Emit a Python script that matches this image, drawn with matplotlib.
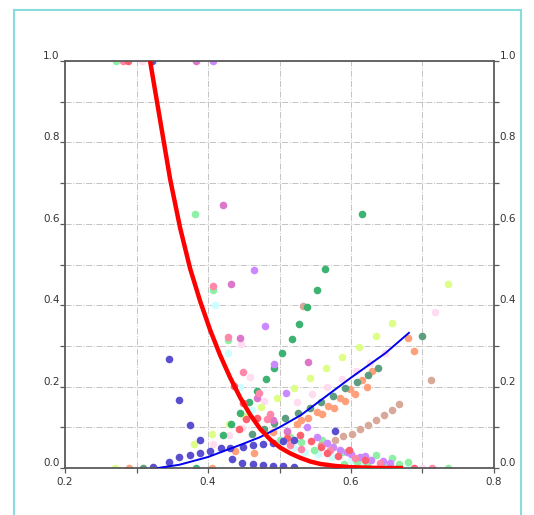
import numpy as np
import matplotlib
matplotlib.use('Agg')
from matplotlib import pyplot as plt
from matplotlib.patches import Rectangle

# curves
red_x = [0.319, 0.333, 0.347, 0.361, 0.375, 0.389, 0.403, 0.417, 0.431, 0.445, 0.459,
         0.473, 0.487, 0.501, 0.515, 0.529, 0.543, 0.557, 0.578, 0.599, 0.64, 0.673]
red_y = [1.0, 0.855, 0.71, 0.59, 0.49, 0.41, 0.339, 0.277, 0.222, 0.173, 0.131,
         0.096, 0.07, 0.05, 0.036, 0.025, 0.016, 0.01, 0.005, 0.002, 0.0, 0.0]
blue_x = [0.33, 0.36, 0.40, 0.45, 0.473, 0.50, 0.53, 0.571, 0.60, 0.648, 0.681]
blue_y = [0.0, 0.008, 0.027, 0.06, 0.076, 0.10, 0.13, 0.184, 0.222, 0.282, 0.332]

# point series, one per colour
darkblue_x = [0.345, 0.36, 0.375, 0.389, 0.322, 0.323, 0.345, 0.36, 0.375, 0.389, 0.403,
              0.418, 0.431, 0.449, 0.463, 0.477, 0.491, 0.505, 0.52, 0.434, 0.448,
              0.463, 0.477, 0.491, 0.505, 0.52, 0.578, 0.579]
darkblue_y = [0.267, 0.168, 0.106, 0.069, 1.0, 0.003, 0.015, 0.027, 0.033, 0.036, 0.042,
              0.048, 0.049, 0.052, 0.056, 0.058, 0.061, 0.066, 0.07, 0.022, 0.013,
              0.01, 0.007, 0.005, 0.004, 0.003, 0.091, 0.0]
green_x = [0.383, 0.421, 0.432, 0.445, 0.457, 0.469, 0.481, 0.492, 0.504, 0.517, 0.527,
           0.538, 0.552, 0.564, 0.615]
green_y = [0.0, 0.081, 0.108, 0.135, 0.162, 0.189, 0.219, 0.246, 0.283, 0.317, 0.354,
           0.396, 0.437, 0.489, 0.624]
teal_x = [0.309, 0.461, 0.478, 0.492, 0.508, 0.526, 0.543, 0.558, 0.575, 0.592, 0.608,
          0.624, 0.638, 0.699]
teal_y = [0.0, 0.083, 0.095, 0.11, 0.123, 0.135, 0.147, 0.162, 0.178, 0.197, 0.211,
          0.228, 0.246, 0.324]
salmon_x = [0.289, 0.406, 0.438, 0.464, 0.491, 0.51, 0.524, 0.53, 0.54, 0.552, 0.559,
            0.568, 0.576, 0.585, 0.592, 0.599, 0.606, 0.615, 0.622, 0.629, 0.68, 0.688]
salmon_y = [0.0, 0.0, 0.042, 0.038, 0.088, 0.088, 0.108, 0.118, 0.123, 0.138, 0.133,
            0.152, 0.147, 0.172, 0.165, 0.194, 0.182, 0.216, 0.199, 0.238, 0.319, 0.287]
tan_x = [0.533, 0.558, 0.578, 0.589, 0.601, 0.613, 0.624, 0.635, 0.646, 0.657, 0.667, 0.712]
tan_y = [0.398, 0.057, 0.069, 0.079, 0.084, 0.096, 0.106, 0.118, 0.13, 0.143, 0.157, 0.216]
yellow_x = [0.27, 0.38, 0.406, 0.429, 0.45, 0.474, 0.496, 0.52, 0.543, 0.565, 0.587,
            0.611, 0.635, 0.657, 0.736]
yellow_y = [0.0, 0.059, 0.083, 0.108, 0.128, 0.15, 0.172, 0.197, 0.221, 0.246, 0.272,
            0.297, 0.324, 0.356, 0.452]
violet_x = [0.407, 0.464, 0.48, 0.492, 0.509, 0.538, 0.552, 0.566, 0.585, 0.6, 0.613,
            0.628, 0.645, 0.575, 0.595, 0.62, 0.655]
violet_y = [1.0, 0.486, 0.349, 0.256, 0.184, 0.1, 0.076, 0.061, 0.045, 0.034, 0.027,
            0.02, 0.017, 0.052, 0.04, 0.03, 0.012]
orchid_x = [0.383, 0.421, 0.432, 0.445, 0.469, 0.491, 0.54, 0.51]
orchid_y = [1.0, 0.646, 0.452, 0.319, 0.172, 0.118, 0.26, 0.09]
pink_x = [0.281, 0.407, 0.428, 0.449, 0.472, 0.482, 0.487, 0.515, 0.53, 0.713,
          0.57, 0.605, 0.64]
pink_y = [1.0, 0.447, 0.322, 0.236, 0.185, 0.12, 0.133, 0.056, 0.046, 0.0,
          0.045, 0.025, 0.012]
red_pts_x = [0.288, 0.436, 0.449, 0.468, 0.453, 0.443, 0.511, 0.529, 0.544, 0.558,
             0.566, 0.62, 0.688, 0.582, 0.597]
red_pts_y = [1.0, 0.201, 0.16, 0.123, 0.12, 0.096, 0.073, 0.08, 0.066, 0.052,
             0.037, 0.02, 0.0, 0.03, 0.045]
lgreen_x = [0.271, 0.382, 0.407, 0.428, 0.5, 0.515, 0.53, 0.56, 0.587, 0.608, 0.635,
            0.657, 0.667, 0.59, 0.735, 0.548, 0.622, 0.645, 0.68]
lgreen_y = [1.0, 0.624, 0.437, 0.314, 0.07, 0.075, 0.064, 0.07, 0.039, 0.015, 0.032,
            0.025, 0.01, 0.01, 0.0, 0.045, 0.008, 0.005, 0.015]
cyan_x = [0.325, 0.41, 0.428, 0.445, 0.461, 0.554, 0.573, 0.68, 0.52, 0.6, 0.535, 0.615]
cyan_y = [1.0, 0.40, 0.283, 0.199, 0.142, 0.034, 0.027, 0.0, 0.05, 0.02, 0.04, 0.01]
lpink_x = [0.308, 0.446, 0.459, 0.478, 0.429, 0.407, 0.448, 0.524, 0.545, 0.566, 0.587,
           0.607, 0.627, 0.648, 0.717, 0.699]
lpink_y = [1.0, 0.305, 0.224, 0.165, 0.081, 0.06, 0.098, 0.162, 0.182, 0.199, 0.219,
           0.238, 0.258, 0.283, 0.383, 0.0]

xtick_vals = [0.2, 0.3, 0.4, 0.5, 0.6, 0.7, 0.8]
xtick_labels = ['0.2', '', '0.4', '', '0.6', '', '0.8']
ytick_vals = [0.0, 0.1, 0.2, 0.3, 0.4, 0.5, 0.6, 0.7, 0.8, 0.9, 1.0]
ytick_labels = ['0.0', '', '0.2', '', '0.4', '', '0.6', '', '0.8', '', '1.0']

series = [
    (lpink_x, lpink_y, '#ffdcef'),
    (cyan_x, cyan_y, '#ccffff'),
    (lgreen_x, lgreen_y, '#8ef0a4'),
    (yellow_x, yellow_y, '#ddff88'),
    (tan_x, tan_y, '#d8a99a'),
    (salmon_x, salmon_y, '#ffa07a'),
    (teal_x, teal_y, '#5e9e80'),
    (green_x, green_y, '#3cb371'),
    (violet_x, violet_y, '#cc88ff'),
    (orchid_x, orchid_y, '#dd77cc'),
    (pink_x, pink_y, '#ff88aa'),
    (red_pts_x, red_pts_y, '#ff6070'),
    (darkblue_x, darkblue_y, '#5a4fcf'),
]

fig = plt.figure(figsize=(5.34, 5.15), dpi=100)
fig.patches.append(Rectangle((14 / 534, -0.05), 507 / 534, 0.05 + 505 / 515,
                             transform=fig.transFigure, fill=False,
                             edgecolor='#88dcdc', lw=1.5))
ax = fig.add_axes([65 / 534, 47 / 515, 429 / 534, 407 / 515])

for sx, sy, c in series:
    ax.scatter(sx, sy, s=30, color=c, linewidths=0, zorder=2)

ax.plot(red_x, red_y, color='#ff0000', lw=3.2, zorder=4, solid_capstyle='butt')
ax.plot(blue_x, blue_y, color='#0000ee', lw=1.4, zorder=3)

ax.set_xlim(0.2, 0.8)
ax.set_ylim(0.0, 1.0)
ax.set_xticks(xtick_vals)
ax.set_xticklabels(xtick_labels)
ax.set_yticks(ytick_vals)
ax.set_yticklabels(ytick_labels)
ax.grid(True, ls='-.', color='#c4c4c4', lw=0.7, zorder=0)
ax.set_axisbelow(True)

for sp in ax.spines.values():
    sp.set_color('#5a5a5a')
    sp.set_linewidth(1.3)

ax.tick_params(axis='both', direction='out', length=3.5, width=0.9, color='#5a5a5a',
               labelsize=7.5, labelcolor='#333333')
ax.tick_params(axis='y', right=True, labelright=True, pad=0.5)
ax.tick_params(axis='x', pad=3)

for t in ax.yaxis.get_major_ticks():
    t.label1.set_va('bottom')
    t.label2.set_va('bottom')

plt.savefig('out.png', dpi=100)
